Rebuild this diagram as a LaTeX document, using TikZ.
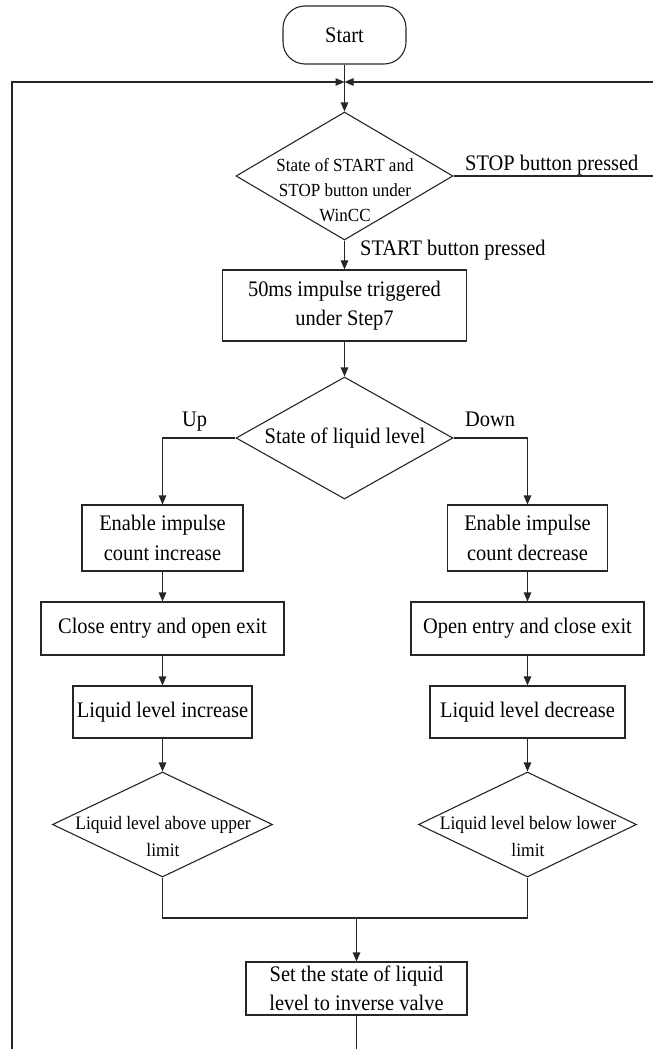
\documentclass[tikz,border=0pt]{standalone}
\usepackage{fontspec}
\setmainfont{Liberation Serif}[FakeStretch=0.92]
\usetikzlibrary{arrows.meta,shapes.geometric}
\newcommand\bxfont{\fontsize{22.2}{29.5}\selectfont}
\newcommand\dmfont{\fontsize{18.5}{25}\selectfont}
\newcommand\dsmfont{\fontsize{19}{27}\selectfont}
\begin{document}
\begin{tikzpicture}[x=1pt,y=-1pt,
  ln/.style={line width=1.1pt, draw=black!85},
  arr/.style={ln, -{Triangle[length=9pt,width=7.5pt]}},
  box/.style={ln, rectangle, inner sep=0pt, align=center, font=\bxfont},
  dia/.style={ln, diamond, inner sep=0pt},
  dtxt/.style={inner sep=0pt, align=center},
  lbl/.style={font=\bxfont, inner sep=0pt, anchor=base west}]
\useasboundingbox (0,0) rectangle (653,1049);
% nodes
\node[ln, rounded corners=22pt, minimum width=123pt, minimum height=58pt, inner sep=0pt, font=\bxfont] (S) at (344.5,35) {Start};
\node[dia, minimum width=217pt, minimum height=128pt] (D1) at (344.5,176) {};
\node[dtxt, font=\dmfont] (D1t) at (345,190) {State of START and\\STOP button under\\WinCC};
\node[box, minimum width=244pt, minimum height=71pt] (B2) at (344.5,305.5) {50ms impulse triggered\\under Step7};
\node[dia, minimum width=217pt, minimum height=122pt] (D2) at (344.5,438) {};
\node[dtxt, font=\bxfont] (D2t) at (345,438) {State of liquid level};
\node[box, minimum width=161pt, minimum height=66pt] (B3L) at (162.5,538) {Enable impulse\\count increase};
\node[box, minimum width=160pt, minimum height=66pt] (B3R) at (527.5,538) {Enable impulse\\count decrease};
\node[box, minimum width=243pt, minimum height=53pt] (B4L) at (162.5,628.5) {Close entry and open exit};
\node[box, minimum width=233pt, minimum height=53pt] (B4R) at (527.5,628.5) {Open entry and close exit};
\node[box, minimum width=179pt, minimum height=52pt] (B5L) at (162.5,712) {Liquid level increase};
\node[box, minimum width=195pt, minimum height=52pt] (B5R) at (527.5,712) {Liquid level decrease};
\node[dia, minimum width=220pt, minimum height=105pt] (D3L) at (162.5,824.5) {};
\node[dtxt, font=\dsmfont] (D3Lt) at (163,836.5) {Liquid level above upper\\limit};
\node[dia, minimum width=218pt, minimum height=105pt] (D3R) at (527.5,824.5) {};
\node[dtxt, font=\dsmfont] (D3Rt) at (528,836.5) {Liquid level below lower\\limit};
\node[box, minimum width=221pt, minimum height=53pt] (F) at (356.5,988.5) {Set the state of liquid\\level to inverse valve};
% labels
\node[lbl] (stopL) at (465,170) {STOP button pressed};
\node[lbl] (startL) at (360,255) {START button pressed};
\node[lbl] (upL) at (182,426) {Up};
\node[lbl] (downL) at (465,426) {Down};
% coordinates
\coordinate (J) at (344.5,82);
\coordinate (Lb) at (12,1049);
\coordinate (Rt) at (653,82);
\coordinate (Rs) at (653,176);
\coordinate (M) at (356.5,918);
\coordinate (Fb) at (356.5,1049);
% connectors
\draw[arr] (S.south) -- (D1.north);
\draw[arr] (Lb) |- (J);
\draw[arr] (Rt) -- (J);
\draw[ln] (D1.east) -- (Rs);
\draw[arr] (D1.south) -- (B2.north);
\draw[arr] (B2.south) -- (D2.north);
\draw[arr] (D2.west) -| (B3L.north);
\draw[arr] (D2.east) -| (B3R.north);
\draw[arr] (B3L.south) -- (B4L.north);
\draw[arr] (B3R.south) -- (B4R.north);
\draw[arr] (B4L.south) -- (B5L.north);
\draw[arr] (B4R.south) -- (B5R.north);
\draw[arr] (B5L.south) -- (D3L.north);
\draw[arr] (B5R.south) -- (D3R.north);
\draw[ln] (D3L.south) -- (D3L.south |- M) -- (D3R.south |- M) -- (D3R.south);
\draw[arr] (M) -- (F.north);
\draw[ln] (F.south) -- (Fb);
\end{tikzpicture}
\end{document}
